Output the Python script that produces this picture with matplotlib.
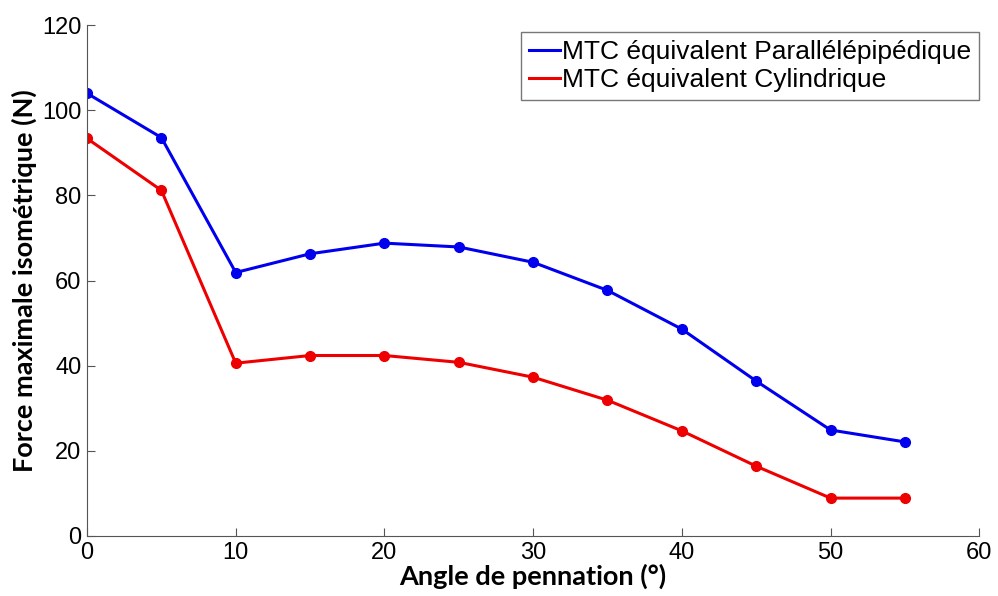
import matplotlib.pyplot as plt

angle = [0, 5, 10, 15, 20, 25, 30, 35, 40, 45, 50, 55]
para = [104.0, 93.6, 61.9, 66.3, 68.8, 67.9, 64.3, 57.7, 48.6, 36.4, 24.9, 22.1]
cyl = [93.4, 81.2, 40.6, 42.4, 42.4, 40.8, 37.3, 31.9, 24.7, 16.4, 8.9, 8.9]

labels = ['MTC équivalent Parallélépipédique', 'MTC équivalent Cylindrique']

fig = plt.figure(figsize=(9.98, 5.96), dpi=100)
ax = fig.add_axes([0.0872, 0.1007, 0.894, 0.857])

l1, = ax.plot(angle, para, color='#0000ee', lw=2.2, marker='o', ms=7)
l2, = ax.plot(angle, cyl, color='#ee0000', lw=2.2, marker='o', ms=7)

ax.set_xlim(0, 60)
ax.set_ylim(0, 120)
ax.set_xticks(range(0, 61, 10))
ax.set_yticks(range(0, 121, 20))

for s in ['top', 'right']:
    ax.spines[s].set_visible(False)
for s in ['left', 'bottom']:
    ax.spines[s].set_color('#555555')
ax.tick_params(direction='in', length=6, color='#555555', labelsize=17, pad=4)
for t in ax.get_xticklabels() + ax.get_yticklabels():
    t.set_family('Liberation Sans')

ax.set_xlabel('Angle de pennation (°)', fontsize=19.5, fontweight='bold', family='Lato', labelpad=0)
ax.set_ylabel('Force maximale isométrique (N)', fontsize=19.5, fontweight='bold', family='Lato', labelpad=4)

# legend without markers
h1 = plt.Line2D([], [], color='#0000ee', lw=2.2)
h2 = plt.Line2D([], [], color='#ee0000', lw=2.2)
leg = ax.legend([h1, h2], labels, loc='upper right', prop={'family': 'Liberation Sans', 'size': 19},
                handlelength=1.15, handletextpad=0.1, borderpad=0.3, labelspacing=0.15,
                fancybox=False, framealpha=1, borderaxespad=0.0, bbox_to_anchor=(1.0, 0.986))
leg.get_frame().set_edgecolor('#777777')

fig.savefig('out.png', dpi=100)
